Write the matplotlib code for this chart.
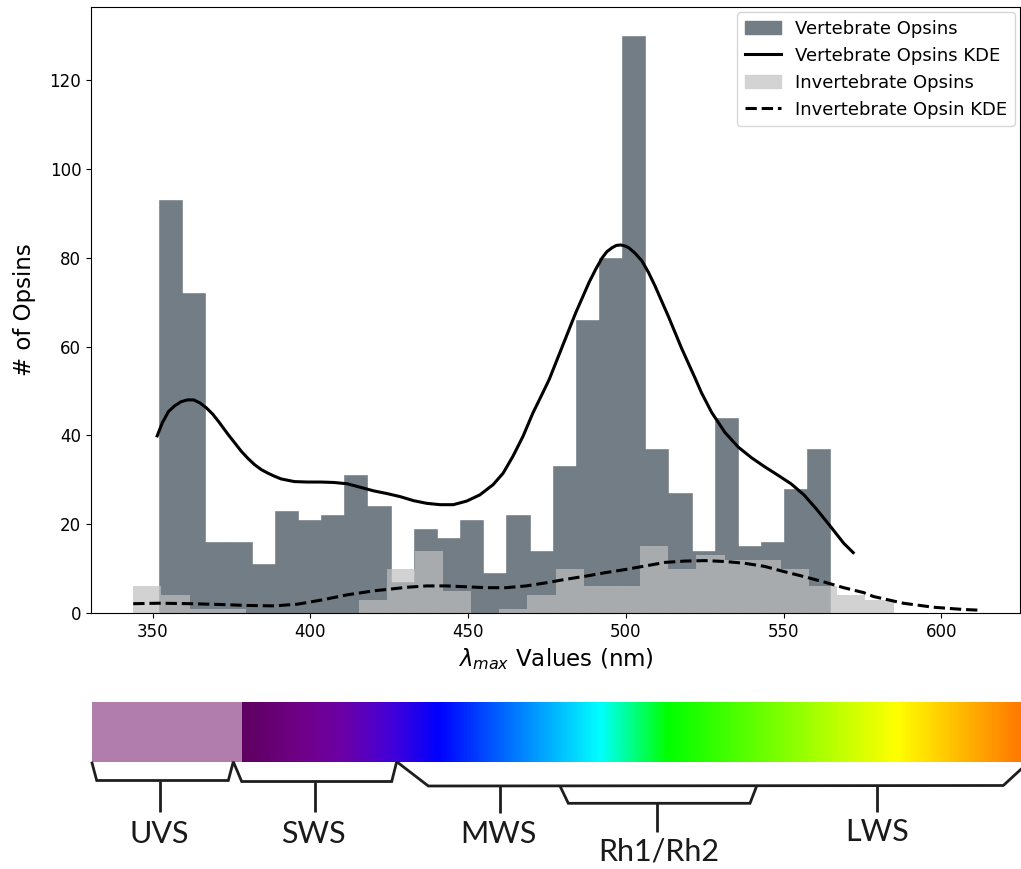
import numpy as np
import matplotlib
matplotlib.use("Agg")
import matplotlib.pyplot as plt
from matplotlib.colors import LinearSegmentedColormap
from matplotlib.patches import Patch, Rectangle
from matplotlib.lines import Line2D

# ---------------- data ----------------
# vertebrate histogram: 29 bins from 352.0 to 564.9 nm
vert_edges = np.linspace(352.0, 564.9, 30)
vert_counts = [93, 72, 16, 16, 11, 23, 21, 22, 31, 24, 7, 19, 17, 21, 9,
               22, 14, 33, 66, 80, 130, 37, 27, 14, 44, 15, 16, 28, 37]

# invertebrate histogram: 27 bins from 343.8 to 584.9 nm
inv_edges = np.linspace(343.8, 584.9, 28)
inv_counts = [6, 4, 1, 1, 0, 0, 0, 0, 3, 10, 14, 5, 0, 1, 4, 10, 6, 6,
              15, 10, 13, 12, 12, 10, 6, 4, 3]

# KDE curves (scaled to counts), read point by point
vert_kde_x = [351.4, 353.0, 355.0, 357.0, 359.0, 361.0, 363.0, 365.0, 367.0, 369.0,
              371.0, 373.9, 376.0, 378.1, 380.2, 382.3, 384.4, 386.5, 388.6, 390.7,
              394.9, 399.1, 403.3, 407.5, 411.7, 415.9, 420.1, 424.3, 428.5,
              432.7, 436.9, 441.1, 445.3, 449.5, 453.7, 457.9, 461.1, 464.2, 467.4,
              470.5, 473.6, 475.7, 479.9, 484.1, 488.3, 490.5, 492.5, 494.0, 495.7,
              497.0, 498.3, 499.6, 500.9, 503.0, 505.1, 507.2, 509.3, 513.5, 517.7,
              521.9, 524.0, 527.2, 531.4, 535.6, 539.8,
              543.9, 548.1, 552.4, 556.5, 560.7, 564.9, 569.1, 572.1]
vert_kde_y = [39.9, 42.8, 45.4, 46.7, 47.6, 48.0, 48.0, 47.3, 46.2, 44.8,
              43.0, 40.2, 38.3, 36.4, 34.8, 33.4, 32.3, 31.5, 30.8, 30.2,
              29.6, 29.5, 29.5, 29.4, 29.1, 28.3, 27.5, 26.9, 26.2,
              25.3, 24.7, 24.4, 24.4, 25.2, 26.6, 28.9, 31.5, 35.3, 39.8,
              45.0, 49.5, 52.6, 60.1, 67.6, 74.4, 77.5, 80.0, 81.4, 82.3,
              82.8, 82.9, 82.7, 82.3, 81.0, 79.3, 76.7, 73.6, 66.8, 59.6,
              53.0, 49.6, 45.2, 40.7, 37.4, 35.0,
              33.0, 31.1, 29.1, 26.6, 23.2, 19.5, 15.7, 13.6]

inv_kde_x = [343.8, 352.0, 362.0, 372.0, 380.0, 388.6, 396.0, 403.3, 411.7, 420.1,
             424.3, 430.6, 436.9, 443.2, 449.5, 455.8, 462.1, 468.4, 474.7, 481.0,
             487.3, 493.6, 499.9, 506.2, 512.5, 518.8, 525.1, 531.4, 537.7, 544.0,
             550.3, 556.5, 562.8, 569.1, 575.4, 578.6, 588.0, 597.5, 606.9, 611.6]
inv_kde_y = [2.1, 2.2, 2.1, 1.9, 1.7, 1.6, 2.0, 2.9, 4.1, 5.0,
             5.3, 5.8, 6.1, 6.1, 5.9, 5.7, 5.7, 6.1, 6.8, 7.6,
             8.3, 9.1, 9.8, 10.6, 11.4, 11.7, 11.8, 11.6, 11.2, 10.5,
             9.3, 8.2, 7.0, 5.7, 4.6, 3.7, 2.2, 1.3, 0.8, 0.65]

# opsin classes shown under the spectrum
class_labels = ["UVS", "SWS", "MWS", "Rh1/Rh2", "LWS"]

# ---------------- figure ----------------
DPI = 100
fig = plt.figure(figsize=(1021 / DPI, 869 / DPI), dpi=DPI)

ax = fig.add_axes([91 / 1021, 1 - 613 / 869, 929 / 1021, 606 / 869])

vert_color = "#737d85"
ax.hist(vert_edges[:-1], bins=vert_edges, weights=vert_counts,
        color=vert_color, edgecolor="#6d777f", linewidth=0.4)
ax.plot(vert_kde_x, vert_kde_y, color="black", lw=2.2, solid_joinstyle="round")
ax.hist(inv_edges[:-1], bins=inv_edges, weights=inv_counts,
        color="#c0c0c0", alpha=0.7, edgecolor="none")
ax.plot(inv_kde_x, inv_kde_y, color="black", lw=2.2, ls="--", dash_joinstyle="round")

ax.set_xticks([350, 400, 450, 500, 550, 600])
ax.set_yticks([0, 20, 40, 60, 80, 100, 120])
ax.tick_params(labelsize=12)
ax.set_xlabel(r"$\lambda_{max}$ Values (nm)", fontsize=16.5, labelpad=4)
ax.set_ylabel("# of Opsins", fontsize=16.5, labelpad=10)

handles = [Patch(color=vert_color),
           Line2D([], [], color="black", lw=2.2),
           Patch(color="#d3d3d3"),
           Line2D([], [], color="black", lw=2.2, ls="--")]
names = ["Vertebrate Opsins", "Vertebrate Opsins KDE",
         "Invertebrate Opsins", "Invertebrate Opsin KDE"]
ax.legend(handles, names, loc="upper right", fontsize=13, borderaxespad=0.3)

# ---------------- spectrum strip + class brackets (pixel space) ----------------
bx = fig.add_axes([0, 0, 1, 1], zorder=-1)
bx.axis("off")

# UV block
bx.add_patch(Rectangle((91.7, 701.7), 242.3 - 91.7, 60, color="#b07dad", lw=0))

# visible gradient
stops = [(242.3, "#5f0061"), (300, "#700088"), (340, "#6c00a4"), (390, "#4400d8"),
         (438, "#0000ff"), (600, "#00ffff"), (668, "#00ff00"), (898, "#ffff00"),
         (1021, "#ff7a00")]
x0, x1 = stops[0][0], stops[-1][0]
spec_cmap = LinearSegmentedColormap.from_list(
    "spec", [((x - x0) / (x1 - x0), c) for x, c in stops])
grad = np.linspace(0, 1, 800)[None, :]
bx.imshow(grad, cmap=spec_cmap, aspect="auto", extent=[x0, x1, 761.7, 701.7],
          interpolation="bilinear")
bx.set_xlim(0, 1021)
bx.set_ylim(869, 0)

lk = dict(color="#1e1e1e", lw=2.0, solid_joinstyle="miter", solid_capstyle="butt")
# UVS / SWS sawtooth
bx.plot([91.7, 96.7, 228.3, 233.3, 241.7, 391.7, 396.7],
        [761.7, 780.5, 780.5, 761.7, 781.5, 781.5, 761.7], **lk)
# MWS + LWS long bracket
bx.plot([396.7, 428.3, 1003.3, 1022], [761.7, 786.0, 785.5, 768.3], **lk)
# Rh1/Rh2 sub-bracket
bx.plot([560, 568.3, 750, 756.7], [786, 803.3, 803.3, 786], **lk)
# stems
for sx, sy0, sy1 in [(160, 780.5, 811.7), (315, 781.5, 812), (500, 786, 813.3),
                     (657.3, 803.3, 831.7), (876.7, 785.5, 811.7)]:
    bx.plot([sx, sx], [sy0, sy1], **lk)

label_pos = [(159, 834), (313.3, 834), (498.3, 834), (658.3, 852), (876.7, 832)]
for lab, (tx, ty) in zip(class_labels, label_pos):
    bx.text(tx, ty, lab, ha="center", va="center", fontsize=22,
            family=["Lato", "DejaVu Sans"], fontweight="normal", color="#1a1a1a")

fig.savefig("out.png", dpi=DPI)
